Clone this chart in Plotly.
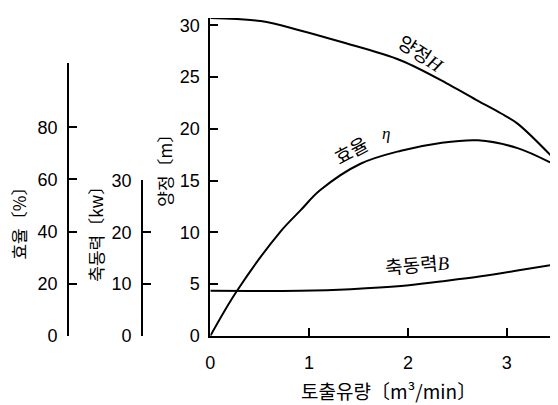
import plotly.graph_objects as go

# ---- data ----
flow_head = [0, 0.51, 0.91, 1.32, 1.93, 2.43, 2.71, 2.94, 3.11, 3.52]
head_m = [30.7, 30.4, 29.5, 28.4, 26.6, 24.2, 22.7, 21.5, 20.5, 16.7]

flow_eff = [0, 0.27, 0.71, 0.91, 1.11, 1.52, 1.93, 2.33, 2.71, 3.11, 3.44]
eff_pct = [0, 17.3, 40, 48, 55.8, 66, 71, 74, 75, 72, 66.5]

flow_pow = [0, 0.41, 0.91, 1.42, 1.93, 2.33, 2.74, 3.14, 3.52]
power_kw = [8.7, 8.65, 8.7, 9.0, 9.6, 10.5, 11.5, 12.7, 13.9]

x_ticks = [0, 1, 2, 3]
head_ticks = [0, 5, 10, 15, 20, 25, 30]
eff_ticks = [0, 20, 40, 60, 80]
pow_ticks = [0, 10, 20, 30]

W, H = 558, 405
FONT = "Liberation Sans, Arial, Noto Sans CJK KR, sans-serif"
KFONT = "Noto Sans CJK KR, Liberation Sans, sans-serif"

# mapping from target screen pixels to paper fractions (measured plot area)
PL, PT, PW, PH = 13, 18, 552, 384


def px_x(p):
    return (p - PL) / PW


def px_y(p):
    return 1 - (p - PT) / PH


fig = go.Figure()
fig.add_trace(go.Scatter(x=flow_head, y=head_m, mode="lines", line=dict(color="black", width=2, shape="spline"),
                         xaxis="x", yaxis="y", showlegend=False))
fig.add_trace(go.Scatter(x=flow_eff, y=eff_pct, mode="lines", line=dict(color="black", width=2, shape="spline"),
                         xaxis="x", yaxis="y2", showlegend=False))
fig.add_trace(go.Scatter(x=flow_pow, y=power_kw, mode="lines", line=dict(color="black", width=2, shape="spline"),
                         xaxis="x", yaxis="y3", showlegend=False))

axis_common = dict(showline=True, linecolor="black", linewidth=2, ticks="inside", ticklen=8,
                   tickwidth=2, tickcolor="black", showgrid=False, zeroline=False,
                   tickfont=dict(family=FONT, size=18, color="black"))

fig.update_layout(
    width=W, height=H,
    margin=dict(l=0, r=0, t=0, b=0),
    paper_bgcolor="white", plot_bgcolor="rgba(0,0,0,0)",
    xaxis=dict(domain=[px_x(210), px_x(558)], range=[0, 3.53], tickvals=x_ticks, anchor="y",
               ticklabelstandoff=10, **axis_common),
    yaxis=dict(domain=[px_y(335), px_y(18)], range=[0, 30.7], tickvals=head_ticks, anchor="x",
               ticklabelstandoff=5, **axis_common),
    yaxis2=dict(domain=[px_y(335), px_y(63)], range=[0, 104.6], tickvals=eff_ticks, anchor="free",
                position=px_x(68), ticklabelstandoff=6, **axis_common),
    yaxis3=dict(domain=[px_y(335), px_y(180)], range=[0, 30], tickvals=pow_ticks, anchor="free",
                position=px_x(142), ticklabelstandoff=6, **axis_common),
)

ann = [
    dict(text="효율〔%〕", x=19, y=219, textangle=-90, size=17),
    dict(text="축동력〔kw〕", x=95, y=229, textangle=-90, size=17),
    dict(text="양정〔m〕", x=164, y=166, textangle=-90, size=17),
    dict(text="토출유량〔m³/min〕", x=388, y=390, textangle=0, size=19),
    dict(text="양정<span style=\"font-family:Liberation Serif\"><i>H</i></span>", x=421, y=52, textangle=33, size=19),
    dict(text="효율", x=350, y=149, textangle=-28, size=19),
    dict(text="<span style=\"font-family:Liberation Serif\"><i>η</i></span>", x=385, y=133, textangle=0, size=17),
    dict(text="축동력<span style=\"font-family:Liberation Serif\"><i>B</i></span>", x=416, y=263, textangle=-5, size=19),
]
for a in ann:
    fig.add_annotation(text=a["text"], x=px_x(a["x"]), y=px_y(a["y"]), xref="paper", yref="paper",
                       xanchor="center", yanchor="middle", showarrow=False, textangle=a["textangle"],
                       font=dict(family=KFONT, size=a["size"], color="black"))

fig.write_html("out.html")
